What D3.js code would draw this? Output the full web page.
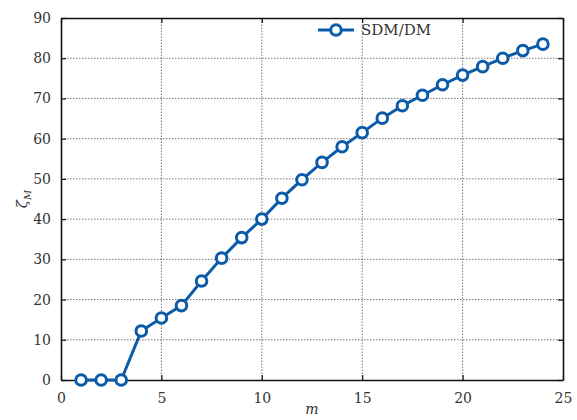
<!DOCTYPE html>
<html>
<head>
<meta charset="utf-8">
<script src="https://cdn.jsdelivr.net/npm/d3@7/dist/d3.min.js"></script>
<style>
  html, body { margin: 0; padding: 0; background: #fff; }
  svg { display: block; }
  .tick text { font-family: "DejaVu Serif", "Liberation Serif", serif; }
</style>
</head>
<body>
<svg id="chart" width="577" height="420"></svg>
<script>
// Series: ζ_M versus m for SDM/DM
const mValues = [1, 2, 3, 4, 5, 6, 7, 8, 9, 10, 11, 12, 13, 14, 15, 16, 17, 18, 19, 20, 21, 22, 23, 24];
const zetaValues = [0, 0, 0, 12.2, 15.4, 18.5, 24.6, 30.3, 35.4, 40.0, 45.2, 49.8, 54.1, 58.0, 61.5, 65.1, 68.2, 70.8, 73.4, 75.8, 77.9, 80.0, 81.9, 83.5];
const seriesName = "SDM/DM";
const xTicks = [0, 5, 10, 15, 20, 25];
const yTicks = [0, 10, 20, 30, 40, 50, 60, 70, 80, 90];

const blue = "#0b5ba8";
const svg = d3.select("#chart");
const margin = { left: 61, right: 14, top: 18, bottom: 40 };
const W = 577, H = 420;
const x = d3.scaleLinear().domain([0, 25]).range([margin.left, W - margin.right]);
const y = d3.scaleLinear().domain([0, 90]).range([H - margin.bottom, margin.top]);

// Dotted grid
const grid = svg.append("g");
grid.selectAll("line.gx").data(xTicks.slice(1, -1)).join("line")
  .attr("x1", d => x(d)).attr("x2", d => x(d))
  .attr("y1", y(0)).attr("y2", y(90))
  .attr("stroke", "#555").attr("stroke-width", 0.8).attr("stroke-dasharray", "1.5,1.5");
grid.selectAll("line.gy").data(yTicks.slice(1, -1)).join("line")
  .attr("x1", x(0)).attr("x2", x(25))
  .attr("y1", d => y(d)).attr("y2", d => y(d))
  .attr("stroke", "#555").attr("stroke-width", 0.8).attr("stroke-dasharray", "1.5,1.5");

// Axes with inward ticks on all four sides
const fmt = d3.format("d");
const bottomAxis = svg.append("g").attr("transform", `translate(0,${y(0)})`)
  .call(d3.axisBottom(x).tickValues(xTicks).tickFormat(fmt).tickSizeInner(-5).tickSizeOuter(0).tickPadding(13));
const leftAxis = svg.append("g").attr("transform", `translate(${x(0)},0)`)
  .call(d3.axisLeft(y).tickValues(yTicks).tickFormat(fmt).tickSizeInner(-5).tickSizeOuter(0).tickPadding(10));
const topAxis = svg.append("g").attr("transform", `translate(0,${y(90)})`)
  .call(d3.axisTop(x).tickValues(xTicks).tickFormat("").tickSizeInner(-5).tickSizeOuter(0));
const rightAxis = svg.append("g").attr("transform", `translate(${x(25)},0)`)
  .call(d3.axisRight(y).tickValues(yTicks).tickFormat("").tickSizeInner(-5).tickSizeOuter(0));

[bottomAxis, leftAxis, topAxis, rightAxis].forEach(g => {
  g.select(".domain").attr("stroke", "#111").attr("stroke-width", 1.6);
  g.selectAll(".tick line").attr("stroke", "#111").attr("stroke-width", 1.2);
  g.selectAll(".tick text").attr("font-size", 14).attr("fill", "#333");
});

// Series line and circle markers
const line = d3.line().x((d, i) => x(mValues[i])).y(d => y(d));
svg.append("path").datum(zetaValues)
  .attr("d", line).attr("fill", "none")
  .attr("stroke", blue).attr("stroke-width", 3).attr("stroke-linejoin", "round");
svg.append("g").selectAll("circle").data(zetaValues).join("circle")
  .attr("cx", (d, i) => x(mValues[i])).attr("cy", d => y(d))
  .attr("r", 5.3).attr("fill", "#fff")
  .attr("stroke", blue).attr("stroke-width", 3);

// Legend
const lg = svg.append("g");
lg.append("line").attr("x1", 318).attr("x2", 354).attr("y1", 30).attr("y2", 30)
  .attr("stroke", blue).attr("stroke-width", 3);
lg.append("circle").attr("cx", 336).attr("cy", 30).attr("r", 5.3)
  .attr("fill", "#fff").attr("stroke", blue).attr("stroke-width", 3);
lg.append("text").attr("x", 361).attr("y", 35)
  .attr("font-family", "DejaVu Serif, Liberation Serif, serif").attr("font-size", 15).attr("fill", "#333")
  .text(seriesName);

// Axis labels
svg.append("text").attr("x", x(12.5)).attr("y", 414).attr("text-anchor", "middle")
  .attr("font-family", "DejaVu Serif, Liberation Serif, serif").attr("font-style", "italic")
  .attr("font-size", 14).attr("fill", "#333").text("m");
const yl = svg.append("text")
  .attr("transform", `translate(27,${y(45)}) rotate(-90)`).attr("text-anchor", "middle")
  .attr("font-family", "DejaVu Serif, Liberation Serif, serif").attr("font-style", "italic")
  .attr("font-size", 15).attr("fill", "#333");
yl.append("tspan").text("ζ");
yl.append("tspan").attr("font-size", 10).attr("dy", 4).text("M");
</script>
</body>
</html>
